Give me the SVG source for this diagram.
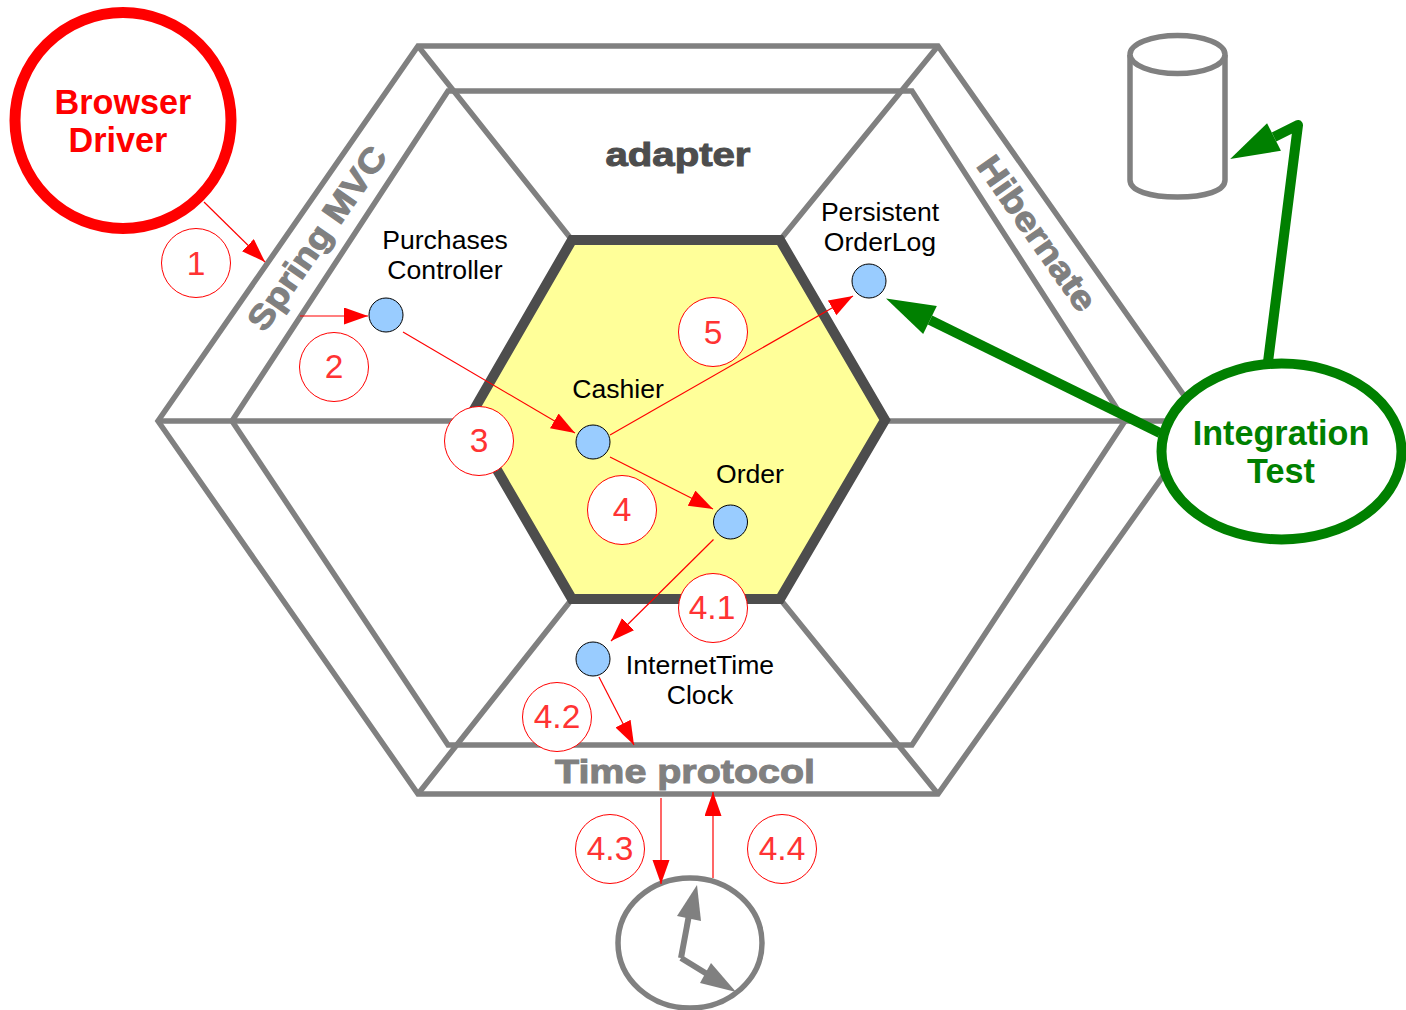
<svg xmlns="http://www.w3.org/2000/svg" width="1406" height="1010" viewBox="0 0 1406 1010">
<style>
.g{fill:none;stroke:#808080;stroke-width:5.500;stroke-linejoin:miter}
.r{fill:none;stroke:#ff0000;stroke-width:1.200}
.gr{fill:none;stroke:#008000;stroke-width:10}
.n{fill:#99ccff;stroke:#000;stroke-width:1}
.s{fill:#fff;stroke:#ff0000;stroke-width:1}
.st{font:33.500px "Liberation Sans",Arial,sans-serif;fill:#ff3333;text-anchor:middle}
.t{font:26.600px "Liberation Sans",Arial,sans-serif;fill:#000;text-anchor:middle}
.b{font:bold 34.200px "Liberation Sans",Arial,sans-serif;text-anchor:middle}
.h{font:bold 34px "Liberation Sans",Arial,sans-serif;fill:#808080;stroke:#808080;stroke-width:1;text-anchor:middle}
</style>
<defs>
<marker id="ar" markerUnits="userSpaceOnUse" markerWidth="26" markerHeight="18" refX="24" refY="8.500" orient="auto"><path d="M0 0L24 8.500L0 17Z" fill="#ff0000"/></marker>
<marker id="ag" markerUnits="userSpaceOnUse" markerWidth="54" markerHeight="32" refX="2" refY="15.500" orient="auto"><path d="M2 0L51 15.500L2 31Z" fill="#008000"/></marker>
</defs>
<g id="hexagon">
<path class="g" d="M418 46H938L1202 421L938 794H418L158 421Z"/>
<path class="g" d="M448 91H912L1125 421L912 745H448L232 421Z"/>
<path class="g" d="M418 46L572 240M938 46L780 240M418 794L572 599M938 794L780 599M158 421H468M885 421H1202"/>
</g>
<g id="core"><path d="M572 240H780L885 420L780 599H572L468 420Z" fill="#ffff99" stroke="#4d4d4d" stroke-width="10"/></g>
<text class="h" x="678" y="166" style="fill:#4d4d4d;stroke:#4d4d4d" textLength="145" lengthAdjust="spacingAndGlyphs">adapter</text>
<text class="h" x="0" y="0" transform="translate(326.500 245) rotate(-55)" textLength="216" lengthAdjust="spacingAndGlyphs">Spring MVC</text>
<text class="h" x="0" y="0" transform="translate(1027.500 240) rotate(55)" textLength="181" lengthAdjust="spacingAndGlyphs">Hibernate</text>
<text class="h" x="685" y="783" textLength="260" lengthAdjust="spacingAndGlyphs">Time protocol</text>
<g id="database"><path class="g" d="M1130 55V180C1130 191 1150 197 1177.500 197S1225 191 1225 180V55"/><ellipse class="g" cx="1177.500" cy="54.500" rx="47.500" ry="19"/></g>
<g id="clock"><ellipse class="g" cx="690" cy="943" rx="72" ry="65" style="fill:#fff"/>
<path d="M681 958L689 915" fill="none" stroke="#808080" stroke-width="6"/><path d="M697 885L677 916L701 921Z" fill="#808080"/>
<path d="M681 958L712 977" fill="none" stroke="#808080" stroke-width="6"/><path d="M736 992L711 963L700 983Z" fill="#808080"/></g>
<g id="connectors">
<path class="r" d="M204 202L265 262" marker-end="url(#ar)"/>
<path class="r" d="M300 316H368" marker-end="url(#ar)"/>
<path class="r" d="M403 332L575 433" marker-end="url(#ar)"/>
<path class="r" d="M610 435L853 296" marker-end="url(#ar)"/>
<path class="r" d="M610 457L713 509" marker-end="url(#ar)"/>
<path class="r" d="M713.500 539.500L611 641" marker-end="url(#ar)"/>
<path class="r" d="M599 677L634 745" marker-end="url(#ar)"/>
<path class="r" d="M661 798V884" marker-end="url(#ar)"/>
<path class="r" d="M713 878V792" marker-end="url(#ar)"/>
<path class="gr" d="M1160 433L930 320" marker-end="url(#ag)"/>
<path class="gr" d="M1268 362L1298 125L1274 137" marker-end="url(#ag)" stroke-linejoin="round"/>
</g>
<g id="browser-driver"><circle cx="123" cy="120.500" r="108" fill="#fff" stroke="#ff0000" stroke-width="11"/><text class="b" x="123" y="114" fill="#ff0000">Browser</text><text class="b" x="118" y="152" fill="#ff0000">Driver</text></g>
<g id="integration-test"><ellipse cx="1281.500" cy="451.500" rx="120" ry="88" fill="#fff" stroke="#008000" stroke-width="10"/><text class="b" x="1281" y="444.500" fill="#008000">Integration</text><text class="b" x="1281" y="482.500" fill="#008000">Test</text></g>
<g id="purchases-controller"><circle class="n" cx="386" cy="315" r="17"/><text class="t" x="445" y="249">Purchases</text><text class="t" x="445" y="279">Controller</text></g>
<g id="cashier"><circle class="n" cx="593" cy="442" r="17"/><text class="t" x="618" y="398">Cashier</text></g>
<g id="order"><circle class="n" cx="730.500" cy="522" r="17"/><text class="t" x="750" y="483">Order</text></g>
<g id="persistent-order-log"><circle class="n" cx="869" cy="281" r="17"/><text class="t" x="880" y="221">Persistent</text><text class="t" x="880" y="251">OrderLog</text></g>
<g id="internet-time-clock"><circle class="n" cx="593" cy="659" r="17"/><text class="t" x="700" y="674">InternetTime</text><text class="t" x="700" y="704">Clock</text></g>
<g id="step-1"><circle class="s" cx="196" cy="263" r="34.500"/><text class="st" x="196" y="275">1</text></g>
<g id="step-2"><circle class="s" cx="334" cy="367" r="34.500"/><text class="st" x="334" y="378">2</text></g>
<g id="step-3"><circle class="s" cx="479" cy="441" r="34.500"/><text class="st" x="479" y="452">3</text></g>
<g id="step-4"><circle class="s" cx="622" cy="510" r="34.500"/><text class="st" x="622" y="521">4</text></g>
<g id="step-5"><circle class="s" cx="713" cy="332" r="34.500"/><text class="st" x="713" y="344">5</text></g>
<g id="step-4-1"><circle class="s" cx="713" cy="608" r="34.500"/><text class="st" x="712" y="619">4.1</text></g>
<g id="step-4-2"><circle class="s" cx="557" cy="717" r="34.500"/><text class="st" x="557" y="728">4.2</text></g>
<g id="step-4-3"><circle class="s" cx="610" cy="849" r="34.500"/><text class="st" x="610" y="860">4.3</text></g>
<g id="step-4-4"><circle class="s" cx="782" cy="849" r="34.500"/><text class="st" x="782" y="860">4.4</text></g>
</svg>
